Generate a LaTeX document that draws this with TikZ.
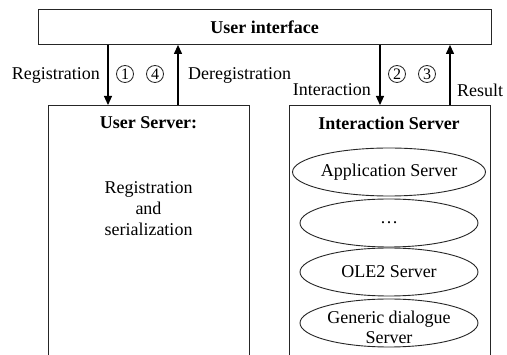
\documentclass[tikz,border=0pt]{standalone}
\usepackage{fontspec}
\setmainfont{Liberation Serif}
\usetikzlibrary{shapes.geometric,arrows.meta}
\begin{document}
\begin{tikzpicture}[x=1pt,y=-1pt,
  lbl/.style={font=\fontsize{18}{21}\selectfont, inner sep=0pt},
  ttl/.style={font=\fontsize{18}{21}\selectfont\bfseries, inner sep=0pt},
  boxline/.style={draw=black!85, line width=0.9pt},
  srv/.style={boxline, ellipse, minimum width=178pt, minimum height=48pt, inner sep=0pt,
     font=\fontsize{18}{20}\selectfont, align=center},
  circ/.style={draw=black!85, line width=0.8pt, circle, minimum size=17pt, inner sep=0pt,
     font=\fontsize{16}{16}\selectfont},
  arr/.style={draw=black, line width=1.1pt, -{Triangle[length=9pt,width=8pt]}}]
\clip (0,0) rectangle (507,355);
\fill[white] (0,0) rectangle (507,355);
% User interface
\node[boxline, rectangle, minimum width=453.5pt, minimum height=34.5pt, anchor=north west,
  inner sep=0pt] (ui) at (37.5,9.5) {};
\node[ttl] (uit) at (ui.center) {User interface};
% servers (open at the bottom: extend past the clip)
\node[boxline, rectangle, minimum width=201pt, minimum height=270pt, anchor=north west,
  inner sep=0pt] (us) at (48,105) {};
\node[boxline, rectangle, minimum width=201pt, minimum height=270pt, anchor=north west,
  inner sep=0pt] (is) at (289,105) {};
\node[ttl] (ust) at (148.5,123) {User Server:};
\node[lbl, align=center, font=\fontsize{18}{21}\selectfont] (usb) at (148.5,209) {Registration\\and\\serialization};
\node[ttl] (ist) at (389,123) {Interaction Server};
% ellipses
\node[srv] (app) at (389,172) {Application Server};
\node[srv] (dots) at (389,223) {\dots};
\node[srv] (ole) at (389,272) {OLE2 Server};
\node[srv] (gen) at (389,323) {};
\node[lbl, align=center, font=\fontsize{18}{20}\selectfont] (gent) at (389,327) {Generic dialogue\\Server};
% arrows
\coordinate (xa) at (108,0);
\coordinate (xb) at (178,0);
\coordinate (xc) at (380,0);
\coordinate (xd) at (450,0);
\draw[arr] (ui.south -| xa) -- (us.north -| xa);
\draw[arr] (us.north -| xb) -- (ui.south -| xb);
\draw[arr] (ui.south -| xc) -- (is.north -| xc);
\draw[arr] (is.north -| xd) -- (ui.south -| xd);
% labels
\node[lbl, anchor=east] (lreg) at (100,75) {Registration};
\node[lbl, anchor=west] (lder) at (188,75) {Deregistration};
\node[lbl, anchor=east] (lint) at (371,90) {Interaction};
\node[lbl, anchor=west] (lres) at (457,90) {Result};
\node[circ] (c1) at (125,74) {1};
\node[circ] (c4) at (155,74) {4};
\node[circ] (c2) at (397,74) {2};
\node[circ] (c3) at (427,74) {3};
\end{tikzpicture}
\end{document}
